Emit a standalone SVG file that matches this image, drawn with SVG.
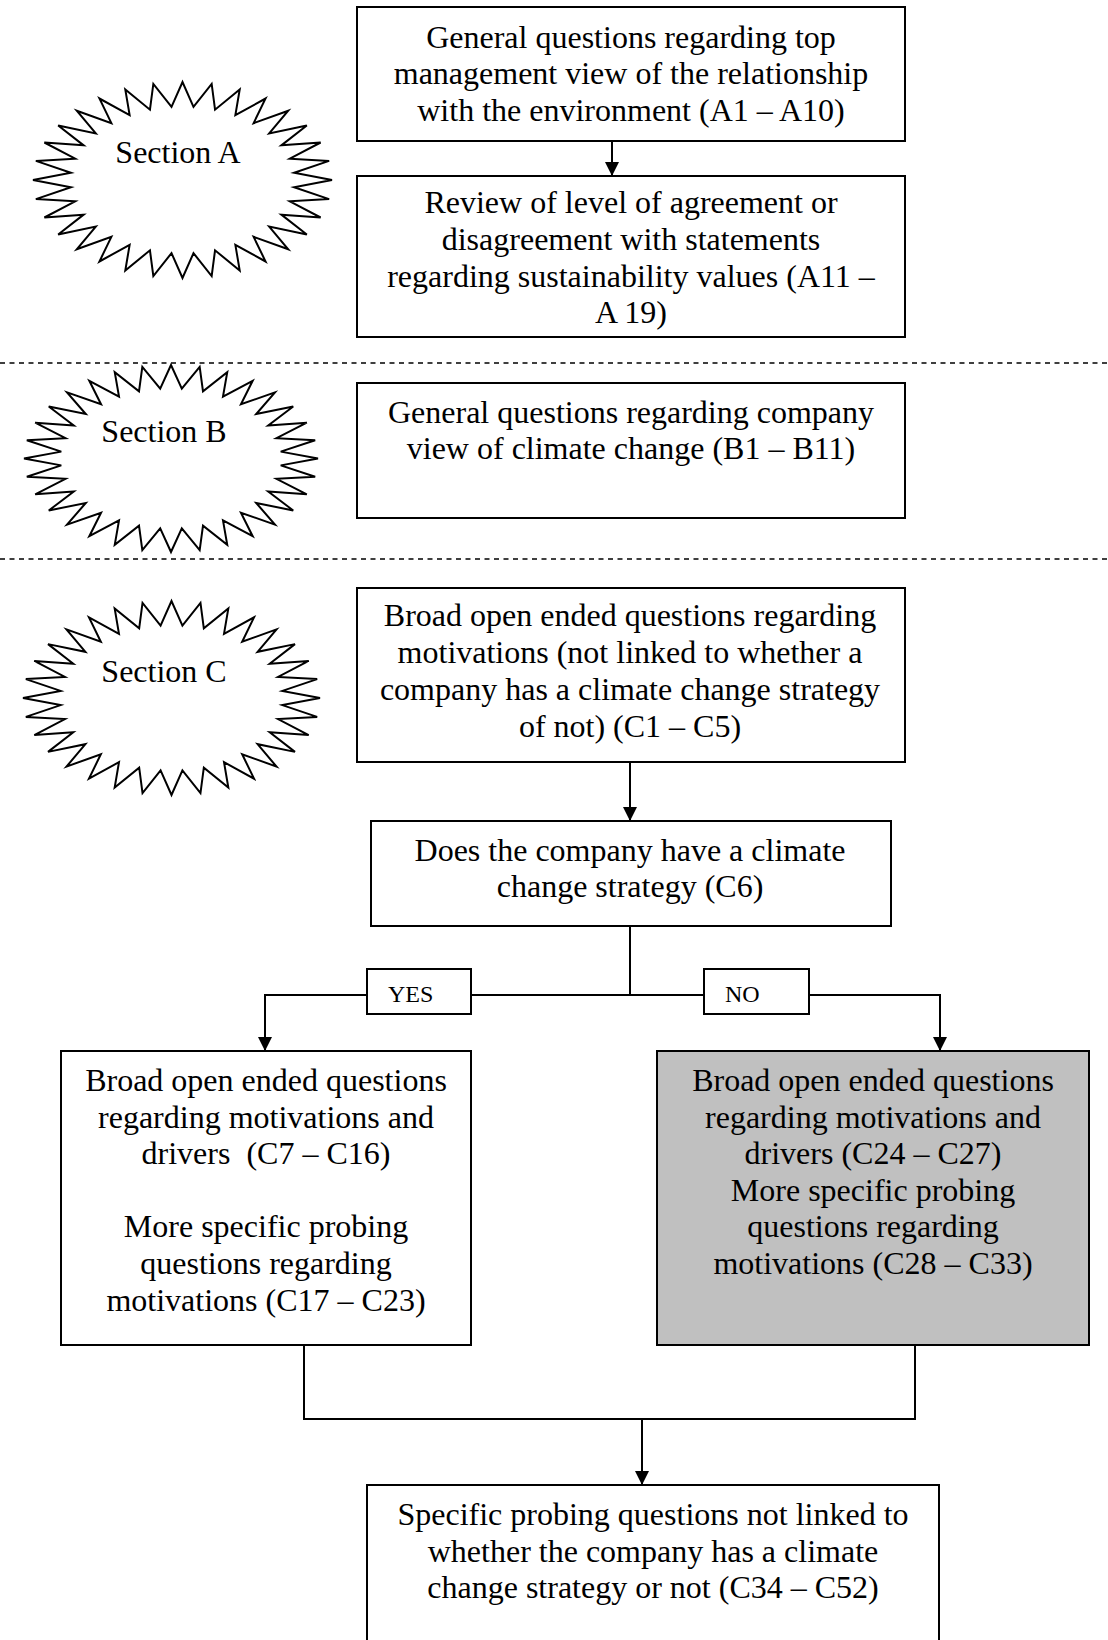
<svg xmlns="http://www.w3.org/2000/svg" xmlns:xlink="http://www.w3.org/1999/xlink" width="1108" height="1640" viewBox="0 0 1108 1640">
  <style>
    .box { fill: #ffffff; stroke: #000000; stroke-width: 2; }
    .shaded { fill: #c0c0c0; }
    .txt { font-family: "Liberation Serif", "Times New Roman", serif; font-size: 32px; fill: #000000; text-anchor: middle; }
    .lbl { font-family: "Liberation Serif", "Times New Roman", serif; font-size: 24px; fill: #000000; }
    .wire { fill: none; stroke: #000000; stroke-width: 2; }
    .divider { fill: none; stroke: #000000; stroke-width: 1.6; stroke-dasharray: 5 4.5; }
    .burst { fill: #ffffff; stroke: #000000; stroke-width: 2; vector-effect: non-scaling-stroke; }
  </style>
  <defs>
    <marker id="arrow" markerUnits="userSpaceOnUse" markerWidth="14" markerHeight="14" viewBox="0 0 14 14" refX="14" refY="7" orient="auto">
      <path d="M0,0 L14,7 L0,14 Z" fill="#000000"/>
    </marker>
    <!-- 32-point star, unit radius 100, inner radius 75 -->
    <path id="star32" class="burst" d="M100,0 74.64,7.35 98.08,19.51 71.77,21.77 92.39,38.27 66.14,35.36 83.15,55.56 57.98,47.58 70.71,70.71 47.58,57.98 55.56,83.15 35.36,66.14 38.27,92.39 21.77,71.77 19.51,98.08 7.35,74.64 0,100 -7.35,74.64 -19.51,98.08 -21.77,71.77 -38.27,92.39 -35.36,66.14 -55.56,83.15 -47.58,57.98 -70.71,70.71 -57.98,47.58 -83.15,55.56 -66.14,35.36 -92.39,38.27 -71.77,21.77 -98.08,19.51 -74.64,7.35 -100,0 -74.64,-7.35 -98.08,-19.51 -71.77,-21.77 -92.39,-38.27 -66.14,-35.36 -83.15,-55.56 -57.98,-47.58 -70.71,-70.71 -47.58,-57.98 -55.56,-83.15 -35.36,-66.14 -38.27,-92.39 -21.77,-71.77 -19.51,-98.08 -7.35,-74.64 0,-100 7.35,-74.64 19.51,-98.08 21.77,-71.77 38.27,-92.39 35.36,-66.14 55.56,-83.15 47.58,-57.98 70.71,-70.71 57.98,-47.58 83.15,-55.56 66.14,-35.36 92.39,-38.27 71.77,-21.77 98.08,-19.51 74.64,-7.35 Z"/>
  </defs>

  <rect x="0" y="0" width="1108" height="1640" fill="#ffffff"/>

  <!-- section dividers -->
  <g id="dividers">
    <line class="divider" x1="0" y1="363" x2="1108" y2="363"/>
    <line class="divider" x1="0" y1="559" x2="1108" y2="559"/>
  </g>

  <!-- section badges -->
  <g id="section-a">
    <use xlink:href="#star32" transform="translate(182.5,180) scale(1.495,0.98)"/>
    <text class="txt" x="178" y="163">Section A</text>
  </g>
  <g id="section-b">
    <use xlink:href="#star32" transform="translate(171,458.5) scale(1.47,0.935)"/>
    <text class="txt" x="164" y="442">Section B</text>
  </g>
  <g id="section-c">
    <use xlink:href="#star32" transform="translate(171.5,698) scale(1.485,0.97)"/>
    <text class="txt" x="164" y="682">Section C</text>
  </g>

  <!-- connectors -->
  <g id="connectors">
    <line class="wire" x1="612" y1="141" x2="612" y2="176" marker-end="url(#arrow)"/>
    <line class="wire" x1="630" y1="762" x2="630" y2="821" marker-end="url(#arrow)"/>
    <line class="wire" x1="630" y1="926" x2="630" y2="995"/>
    <line class="wire" x1="265" y1="995" x2="940" y2="995"/>
    <line class="wire" x1="265" y1="994" x2="265" y2="1051" marker-end="url(#arrow)"/>
    <line class="wire" x1="940" y1="994" x2="940" y2="1051" marker-end="url(#arrow)"/>
    <polyline class="wire" points="304,1345 304,1419 915,1419 915,1345"/>
    <line class="wire" x1="642" y1="1419" x2="642" y2="1485" marker-end="url(#arrow)"/>
  </g>

  <!-- branch labels -->
  <g id="label-yes">
    <rect class="box" x="367" y="969" width="104" height="45"/>
    <text class="lbl" x="388" y="1002">YES</text>
  </g>
  <g id="label-no">
    <rect class="box" x="704" y="969" width="105" height="45"/>
    <text class="lbl" x="725" y="1002">NO</text>
  </g>

  <!-- question blocks -->
  <g id="a1">
    <rect class="box" x="357" y="7" width="548" height="134"/>
    <text class="txt" x="631" y="47.5">General questions regarding top</text>
    <text class="txt" x="631" y="84">management view of the relationship</text>
    <text class="txt" x="631" y="120.5">with the environment (A1 – A10)</text>
  </g>
  <g id="a2">
    <rect class="box" x="357" y="176" width="548" height="161"/>
    <text class="txt" x="631" y="213">Review of level of agreement or</text>
    <text class="txt" x="631" y="250">disagreement with statements</text>
    <text class="txt" x="631" y="286.5">regarding sustainability values (A11 –</text>
    <text class="txt" x="631" y="323">A 19)</text>
  </g>
  <g id="b1">
    <rect class="box" x="357" y="383" width="548" height="135"/>
    <text class="txt" x="631" y="423">General questions regarding company</text>
    <text class="txt" x="631" y="459">view of climate change (B1 – B11)</text>
  </g>
  <g id="c1">
    <rect class="box" x="357" y="588" width="548" height="174"/>
    <text class="txt" x="630" y="626">Broad open ended questions regarding</text>
    <text class="txt" x="630" y="663">motivations (not linked to whether a</text>
    <text class="txt" x="630" y="700">company has a climate change strategy</text>
    <text class="txt" x="630" y="737">of not) (C1 – C5)</text>
  </g>
  <g id="c6">
    <rect class="box" x="371" y="821" width="520" height="105"/>
    <text class="txt" x="630" y="861">Does the company have a climate</text>
    <text class="txt" x="630" y="897">change strategy (C6)</text>
  </g>
  <g id="c7">
    <rect class="box" x="61" y="1051" width="410" height="294"/>
    <text class="txt" x="266" y="1091">Broad open ended questions</text>
    <text class="txt" x="266" y="1128">regarding motivations and</text>
    <text class="txt" x="266" y="1164" style="white-space:pre">drivers  (C7 – C16)</text>
    <text class="txt" x="266" y="1237">More specific probing</text>
    <text class="txt" x="266" y="1274">questions regarding</text>
    <text class="txt" x="266" y="1311">motivations (C17 – C23)</text>
  </g>
  <g id="c24">
    <rect class="box shaded" x="657" y="1051" width="432" height="294"/>
    <text class="txt" x="873" y="1091">Broad open ended questions</text>
    <text class="txt" x="873" y="1128">regarding motivations and</text>
    <text class="txt" x="873" y="1164">drivers (C24 – C27)</text>
    <text class="txt" x="873" y="1201">More specific probing</text>
    <text class="txt" x="873" y="1237">questions regarding</text>
    <text class="txt" x="873" y="1274">motivations (C28 – C33)</text>
  </g>
  <g id="c34">
    <rect class="box" x="367" y="1485" width="572" height="190"/>
    <text class="txt" x="653" y="1525">Specific probing questions not linked to</text>
    <text class="txt" x="653" y="1562">whether the company has a climate</text>
    <text class="txt" x="653" y="1598">change strategy or not (C34 – C52)</text>
  </g>
</svg>
